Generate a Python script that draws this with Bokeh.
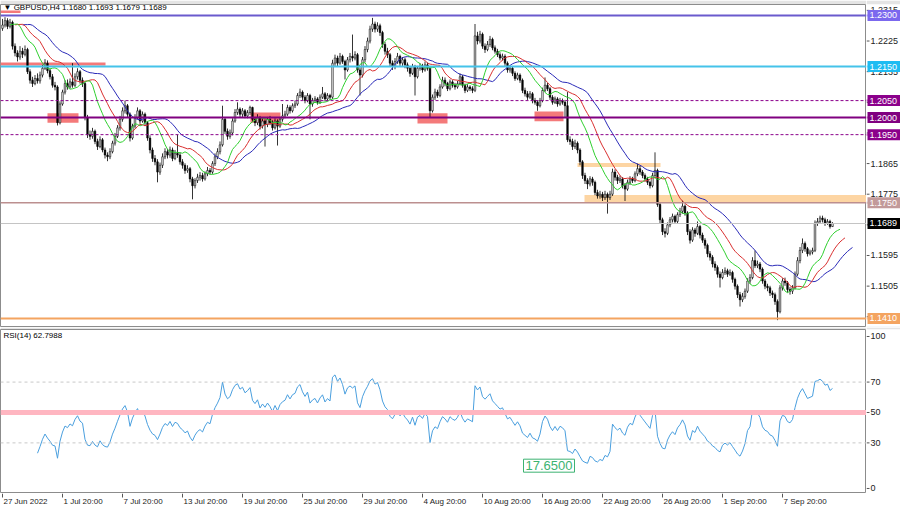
import numpy as np
from bokeh.plotting import figure
from bokeh.layouts import column, row
from bokeh.models import Range1d, Label, Span, ColumnDataSource
from bokeh.embed import file_html
from bokeh.resources import INLINE
from bokeh.core.properties import value

# ---------------- data (GBPUSD H4) ----------------
first_open = 1.2262
closes = [
    1.2272, 1.2285, 1.2268, 1.2280, 1.2210, 1.2190, 1.2178, 1.2195, 1.2186, 1.2200,
    1.2135, 1.2110, 1.2100, 1.2115, 1.2108, 1.2125, 1.2145, 1.2160, 1.2138, 1.2120,
    1.2095, 1.2090, 1.1985, 1.2040, 1.2075, 1.2100, 1.2090, 1.2105, 1.2095, 1.2120,
    1.2135, 1.2110, 1.2100, 1.2000, 1.1950, 1.1945, 1.1960, 1.1930, 1.1915, 1.1935,
    1.1905, 1.1890, 1.1885, 1.1900, 1.1925, 1.1945, 1.1970, 1.1995, 1.2020, 1.2035,
    1.2010, 1.1940, 1.1975, 1.2000, 1.2020, 1.1990, 1.2010, 1.1985, 1.1940, 1.1905,
    1.1880, 1.1870, 1.1840, 1.1860, 1.1885, 1.1900, 1.1890, 1.1905, 1.1880, 1.1895,
    1.1890, 1.1870, 1.1860, 1.1845, 1.1850, 1.1820, 1.1800, 1.1815, 1.1825, 1.1830,
    1.1820, 1.1835, 1.1845, 1.1840, 1.1865, 1.1885, 1.1900, 1.1920, 1.1995, 1.1960,
    1.1945, 1.1955, 1.1990, 1.2015, 1.2025, 1.2010, 1.2020, 1.2005, 1.2015, 1.2030,
    1.1995, 1.1985, 1.2000, 1.1975, 1.1990, 1.1980, 1.1995, 1.1985, 1.1970, 1.1990,
    1.1975, 1.1995, 1.2005, 1.2010, 1.2030, 1.2020, 1.2035, 1.2040, 1.2065, 1.2075,
    1.2060, 1.2050, 1.2065, 1.2040, 1.2050, 1.2055, 1.2045, 1.2060, 1.2070, 1.2055,
    1.2065, 1.2060, 1.2160, 1.2175, 1.2160, 1.2180, 1.2165, 1.2140, 1.2170, 1.2180,
    1.2175, 1.2185, 1.2140, 1.2125, 1.2170, 1.2200, 1.2225, 1.2260, 1.2275, 1.2260,
    1.2270, 1.2250, 1.2215, 1.2195, 1.2185, 1.2160, 1.2150, 1.2165, 1.2180, 1.2160,
    1.2170, 1.2155, 1.2145, 1.2130, 1.2150, 1.2120, 1.2145, 1.2150, 1.2140, 1.2155,
    1.2145, 1.2020, 1.2060, 1.2075, 1.2065, 1.2090, 1.2110, 1.2100, 1.2085, 1.2105,
    1.2095, 1.2090, 1.2100, 1.2120, 1.2095, 1.2080, 1.2090, 1.2085, 1.2080, 1.2240,
    1.2225, 1.2245, 1.2210, 1.2200, 1.2215, 1.2230, 1.2205, 1.2195, 1.2185, 1.2175,
    1.2180, 1.2160, 1.2140, 1.2145, 1.2130, 1.2115, 1.2125, 1.2110, 1.2080, 1.2070,
    1.2060, 1.2070, 1.2050, 1.2045, 1.2035, 1.2050, 1.2080, 1.2095, 1.2085, 1.2060,
    1.2045, 1.2055, 1.2040, 1.2050, 1.2045, 1.2035, 1.1935, 1.1930, 1.1915, 1.1925,
    1.1905, 1.1870, 1.1830, 1.1815, 1.1805, 1.1820, 1.1810, 1.1780, 1.1770, 1.1775,
    1.1765, 1.1775, 1.1765, 1.1775, 1.1840, 1.1825, 1.1815, 1.1820, 1.1800, 1.1790,
    1.1810, 1.1820, 1.1815, 1.1835, 1.1850, 1.1840, 1.1830, 1.1820, 1.1810, 1.1800,
    1.1830, 1.1845, 1.1745, 1.1700, 1.1665, 1.1660, 1.1685, 1.1700, 1.1710, 1.1695,
    1.1715, 1.1725, 1.1740, 1.1720, 1.1665, 1.1640, 1.1670, 1.1660, 1.1680, 1.1655,
    1.1640, 1.1625, 1.1600, 1.1590, 1.1570, 1.1560, 1.1540, 1.1530, 1.1545, 1.1550,
    1.1540, 1.1545, 1.1525, 1.1505, 1.1480, 1.1465, 1.1475, 1.1490, 1.1520, 1.1530,
    1.1580, 1.1565, 1.1570, 1.1555, 1.1520, 1.1505, 1.1500, 1.1485, 1.1480, 1.1460,
    1.1430, 1.1500, 1.1520, 1.1515, 1.1495, 1.1490, 1.1500, 1.1540, 1.1580, 1.1610,
    1.1630, 1.1615, 1.1600, 1.1605, 1.1610, 1.1690, 1.1695, 1.1705, 1.1700, 1.1690,
    1.1695, 1.1680, 1.1689,
]
highs = [
    1.2290, 1.2295, 1.2292, 1.2290, 1.2285, 1.2218, 1.2198, 1.2210, 1.2205, 1.2212,
    1.2205, 1.2142, 1.2120, 1.2125, 1.2130, 1.2135, 1.2155, 1.2172, 1.2168, 1.2145,
    1.2128, 1.2105, 1.2095, 1.2048, 1.2082, 1.2110, 1.2112, 1.2115, 1.2160, 1.2130,
    1.2145, 1.2140, 1.2118, 1.2105, 1.2008, 1.1962, 1.1970, 1.1965, 1.1938, 1.1945,
    1.1940, 1.1912, 1.1898, 1.1910, 1.1932, 1.1955, 1.1978, 1.2005, 1.2030, 1.2050,
    1.2040, 1.2015, 1.1982, 1.2010, 1.2030, 1.2025, 1.2018, 1.2015, 1.1990, 1.1948,
    1.1912, 1.1890, 1.1878, 1.1868, 1.1895, 1.1910, 1.1908, 1.1915, 1.1912, 1.1905,
    1.1950, 1.1898, 1.1878, 1.1866, 1.1860, 1.1855, 1.1826, 1.1822, 1.1835, 1.1840,
    1.1838, 1.1842, 1.1855, 1.1852, 1.1872, 1.1895, 1.1910, 1.1930, 1.2035, 1.2000,
    1.1968, 1.1965, 1.1998, 1.2025, 1.2045, 1.2030, 1.2028, 1.2025, 1.2022, 1.2035,
    1.2032, 1.2002, 1.2010, 1.2005, 1.1998, 1.1995, 1.2002, 1.2005, 1.1992, 1.1998,
    1.1995, 1.2002, 1.2040, 1.2020, 1.2038, 1.2036, 1.2042, 1.2050, 1.2072, 1.2085,
    1.2080, 1.2066, 1.2072, 1.2070, 1.2058, 1.2063, 1.2060, 1.2068, 1.2090, 1.2075,
    1.2072, 1.2070, 1.2170, 1.2185, 1.2182, 1.2190, 1.2185, 1.2170, 1.2178, 1.2190,
    1.2244, 1.2195, 1.2190, 1.2148, 1.2178, 1.2210, 1.2235, 1.2270, 1.2293, 1.2282,
    1.2280, 1.2276, 1.2255, 1.2222, 1.2205, 1.2190, 1.2168, 1.2175, 1.2190, 1.2185,
    1.2178, 1.2176, 1.2162, 1.2150, 1.2158, 1.2155, 1.2152, 1.2160, 1.2158, 1.2165,
    1.2162, 1.2150, 1.2068, 1.2085, 1.2082, 1.2098, 1.2120, 1.2118, 1.2105, 1.2112,
    1.2110, 1.2102, 1.2108, 1.2130, 1.2125, 1.2100, 1.2098, 1.2095, 1.2092, 1.2275,
    1.2252, 1.2255, 1.2250, 1.2218, 1.2225, 1.2240, 1.2235, 1.2212, 1.2202, 1.2192,
    1.2188, 1.2186, 1.2165, 1.2152, 1.2150, 1.2136, 1.2132, 1.2130, 1.2115, 1.2088,
    1.2078, 1.2078, 1.2075, 1.2058, 1.2050, 1.2058, 1.2088, 1.2118, 1.2102, 1.2090,
    1.2066, 1.2062, 1.2060, 1.2058, 1.2056, 1.2052, 1.2075, 1.1945, 1.1938, 1.1935,
    1.1930, 1.1910, 1.1875, 1.1838, 1.1822, 1.1828, 1.1826, 1.1815, 1.1788, 1.1785,
    1.1782, 1.1785, 1.1780, 1.1785, 1.1850, 1.1848, 1.1832, 1.1830, 1.1825, 1.1808,
    1.1818, 1.1828, 1.1826, 1.1842, 1.1865, 1.1858, 1.1846, 1.1836, 1.1826, 1.1815,
    1.1838, 1.1898, 1.1850, 1.1752, 1.1706, 1.1675, 1.1692, 1.1708, 1.1718, 1.1715,
    1.1722, 1.1735, 1.1756, 1.1745, 1.1725, 1.1672, 1.1678, 1.1676, 1.1695, 1.1685,
    1.1662, 1.1646, 1.1630, 1.1608, 1.1596, 1.1578, 1.1566, 1.1548, 1.1555, 1.1560,
    1.1556, 1.1554, 1.1550, 1.1530, 1.1510, 1.1488, 1.1485, 1.1498, 1.1528, 1.1540,
    1.1590, 1.1610, 1.1580, 1.1576, 1.1560, 1.1526, 1.1512, 1.1506, 1.1492, 1.1486,
    1.1466, 1.1508, 1.1528, 1.1530, 1.1520, 1.1502, 1.1508, 1.1548, 1.1590, 1.1620,
    1.1645, 1.1636, 1.1620, 1.1612, 1.1618, 1.1698, 1.1705, 1.1712, 1.1712, 1.1706,
    1.1702, 1.1700, 1.1693,
]
lows = [
    1.2255, 1.2265, 1.2260, 1.2262, 1.2200, 1.2180, 1.2165, 1.2170, 1.2175, 1.2180,
    1.2128, 1.2100, 1.2090, 1.2095, 1.2100, 1.2100, 1.2118, 1.2140, 1.2130, 1.2112,
    1.2088, 1.2080, 1.1977, 1.1980, 1.2035, 1.2068, 1.2082, 1.2085, 1.2088, 1.2090,
    1.2112, 1.2100, 1.2090, 1.1992, 1.1940, 1.1935, 1.1938, 1.1922, 1.1905, 1.1910,
    1.1898, 1.1880, 1.1872, 1.1878, 1.1895, 1.1918, 1.1940, 1.1962, 1.1988, 1.2012,
    1.2002, 1.1930, 1.1935, 1.1968, 1.1995, 1.1982, 1.1985, 1.1975, 1.1932, 1.1895,
    1.1870, 1.1860, 1.1810, 1.1832, 1.1852, 1.1878, 1.1880, 1.1882, 1.1872, 1.1875,
    1.1882, 1.1862, 1.1850, 1.1835, 1.1838, 1.1810, 1.1760, 1.1792, 1.1808, 1.1815,
    1.1812, 1.1815, 1.1828, 1.1832, 1.1835, 1.1858, 1.1878, 1.1892, 1.1915, 1.1952,
    1.1935, 1.1938, 1.1948, 1.1985, 1.2008, 1.2002, 1.2002, 1.1998, 1.1998, 1.2008,
    1.1988, 1.1975, 1.1978, 1.1965, 1.1968, 1.1915, 1.1972, 1.1978, 1.1962, 1.1965,
    1.1918, 1.1970, 1.1988, 1.1998, 1.2005, 1.2012, 1.2015, 1.2028, 1.2035, 1.2058,
    1.2052, 1.2042, 1.2045, 1.1995, 1.2032, 1.2043, 1.2038, 1.2040, 1.2055, 1.2048,
    1.2050, 1.2052, 1.2055, 1.2152, 1.2150, 1.2155, 1.2158, 1.2112, 1.2135, 1.2162,
    1.2165, 1.2168, 1.2132, 1.2065, 1.2118, 1.2162, 1.2192, 1.2218, 1.2252, 1.2250,
    1.2252, 1.2240, 1.2205, 1.2185, 1.2175, 1.2150, 1.2140, 1.2142, 1.2158, 1.2152,
    1.2152, 1.2145, 1.2135, 1.2120, 1.2125, 1.2065, 1.2115, 1.2138, 1.2132, 1.2135,
    1.2138, 1.2000, 1.2015, 1.2052, 1.2058, 1.2060, 1.2085, 1.2092, 1.2078, 1.2080,
    1.2088, 1.2082, 1.2085, 1.2095, 1.2088, 1.2072, 1.2075, 1.2078, 1.2072, 1.2075,
    1.2215, 1.2218, 1.2202, 1.2190, 1.2195, 1.2208, 1.2198, 1.2188, 1.2178, 1.2168,
    1.2168, 1.2152, 1.2132, 1.2132, 1.2122, 1.2108, 1.2110, 1.2102, 1.2072, 1.2062,
    1.2052, 1.2055, 1.2042, 1.2038, 1.2020, 1.2030, 1.2045, 1.2075, 1.2078, 1.2052,
    1.2038, 1.2040, 1.2032, 1.2035, 1.2038, 1.2000, 1.1928, 1.1920, 1.1905, 1.1908,
    1.1895, 1.1860, 1.1820, 1.1805, 1.1790, 1.1798, 1.1800, 1.1772, 1.1762, 1.1762,
    1.1755, 1.1758, 1.1718, 1.1758, 1.1770, 1.1815, 1.1805, 1.1808, 1.1792, 1.1755,
    1.1785, 1.1802, 1.1808, 1.1810, 1.1828, 1.1832, 1.1822, 1.1812, 1.1802, 1.1792,
    1.1795, 1.1825, 1.1738, 1.1690, 1.1655, 1.1648, 1.1655, 1.1678, 1.1692, 1.1688,
    1.1690, 1.1708, 1.1718, 1.1712, 1.1655, 1.1630, 1.1635, 1.1650, 1.1655, 1.1645,
    1.1632, 1.1615, 1.1590, 1.1580, 1.1560, 1.1550, 1.1530, 1.1501, 1.1525, 1.1538,
    1.1532, 1.1535, 1.1515, 1.1495, 1.1470, 1.1445, 1.1458, 1.1468, 1.1485, 1.1512,
    1.1525, 1.1558, 1.1558, 1.1546, 1.1512, 1.1496, 1.1490, 1.1476, 1.1470, 1.1450,
    1.1405, 1.1425, 1.1492, 1.1506, 1.1486, 1.1480, 1.1482, 1.1495, 1.1535, 1.1572,
    1.1602, 1.1606, 1.1592, 1.1595, 1.1598, 1.1605, 1.1682, 1.1688, 1.1692, 1.1682,
    1.1685, 1.1674, 1.1679,
]
assert len(closes) == len(highs) == len(lows) == 333

date_ticks = [0, 24, 48, 72, 96, 120, 144, 168, 192, 216, 240, 264, 288, 312]
date_labels = ["27 Jun 2022", "1 Jul 20:00", "7 Jul 20:00", "13 Jul 20:00", "19 Jul 20:00",
               "25 Jul 20:00", "29 Jul 20:00", "4 Aug 20:00", "10 Aug 20:00", "16 Aug 20:00",
               "22 Aug 20:00", "26 Aug 20:00", "1 Sep 20:00", "7 Sep 20:00"]
price_ticks = [1.1415, 1.1505, 1.1595, 1.1685, 1.1775, 1.1865, 1.1955, 1.2045, 1.2135, 1.2225, 1.2315]
rsi_ticks = [0, 30, 50, 70, 100]

# horizontal levels
level_prices = [1.2300, 1.2150, 1.2050, 1.2000, 1.1950, 1.1750, 1.1410]
level_colors = ["#6a5acd", "#45c3ea", "#8b008b", "#800080", "#8b008b", "#bc8f8f", "#f4a460"]
level_widths = [2, 2, 1, 2, 1, 1.5, 2]
level_dashes = ["solid", "solid", "3 2", "solid", "3 2", "solid", "solid"]
level_box_colors = ["#7b68ee", "#1ebcf2", "#8b008b", "#800080", "#8b008b", "#c29a9a", "#f4a460"]
current_price = 1.1689

# zones (bar index / price)
red_left = [-0.8, 18.0, 99.2, 166.0, 212.8, -0.8]
red_right = [41.2, 30.4, 111.2, 178.0, 224.4, 7.2]
red_top = [1.2162, 1.2013, 1.2015, 1.2013, 1.2018, 1.2315]
red_bottom = [1.2153, 1.1985, 1.1985, 1.1983, 1.1989, 1.2307]
orange_left = [230.0, 232.8]
orange_right = [263.2, 346.5]
orange_top = [1.1867, 1.1773]
orange_bottom = [1.1855, 1.1752]

rsi_title_value = 62.7988
rsi_note_value = 17.6500
rsi_note_bar = 208.4
rsi_note_level = 15.0

# ---------------- derived ----------------
n = len(closes)
idx = np.arange(n)
c = np.array(closes)
h = np.array(highs)
l = np.array(lows)
o = np.array([first_open] + closes[:-1])
bull = c >= o

def smma(x, period):
    out = np.empty(len(x))
    out[0] = x[0]
    for i in range(1, len(x)):
        out[i] = (out[i - 1] * (period - 1) + x[i]) / period
    return out

median = (h + l) / 2.0
jaw = smma(median, 13)
teeth = smma(median, 8)
lips = smma(median, 5)

def rsi(x, period=14):
    d = np.diff(x)
    g = np.where(d > 0, d, 0.0)
    ls = np.where(d < 0, -d, 0.0)
    out = np.full(len(x), np.nan)
    ag = g[:period].mean()
    al = ls[:period].mean()
    out[period] = 100 - 100 / (1 + ag / al) if al > 0 else 100
    for i in range(period + 1, len(x)):
        ag = (ag * (period - 1) + g[i - 1]) / period
        al = (al * (period - 1) + ls[i - 1]) / period
        out[i] = 100 - 100 / (1 + ag / al) if al > 0 else 100
    return out

rsi_vals = rsi(c)

FONT = "Liberation Sans"
XR = Range1d(-0.8, 345.6)
PY = Range1d(1.13864, 1.23323)
RY = Range1d(-3.3, 104.6)
BORDER = "#e4e4e4"


def bare(fw, fh, xr, yr, top=0, bottom=0, border="#ffffff"):
    f = figure(frame_width=fw, frame_height=fh, x_range=xr, y_range=yr,
               output_backend="svg", toolbar_location=None,
               x_axis_location=None, y_axis_location=None,
               min_border_top=top, min_border_bottom=bottom,
               min_border_left=0, min_border_right=0)
    f.grid.visible = False
    f.outline_line_color = None
    f.background_fill_color = "#ffffff"
    f.border_fill_color = border
    return f

# ---------------- price panel ----------------
p1 = bare(866, 322, XR, PY, top=4, bottom=1, border=BORDER)
p1.outline_line_color = "#8c8c8c"

p1.quad(left=red_left, right=red_right, top=red_top, bottom=red_bottom,
        fill_color="#f47a7a", line_color=None)
p1.quad(left=orange_left, right=orange_right, top=orange_top, bottom=orange_bottom,
        fill_color="#fdd5a3", line_color=None)

src = ColumnDataSource(dict(x=idx, h=h, l=l, top=np.maximum(o, c), bottom=np.minimum(o, c),
                            fill=np.where(bull, "#ffffff", "#000000")))
p1.segment(x0="x", y0="h", x1="x", y1="l", source=src, line_color="#000000", line_width=0.8)
p1.vbar(x="x", width=0.62, top="top", bottom="bottom", fill_color="fill",
        line_color="#000000", line_width=0.6, source=src)

p1.line(idx + 8, jaw, line_color="#2b2bb8", line_width=1)
p1.line(idx + 5, teeth, line_color="#d93030", line_width=1)
p1.line(idx + 3, lips, line_color="#2fcf2f", line_width=1)

p1.add_layout(Span(location=current_price, dimension="width", line_color="#c4c4c4", line_width=1))
for lp, lc, lw, ld in zip(level_prices, level_colors, level_widths, level_dashes):
    p1.add_layout(Span(location=lp, dimension="width", line_color=lc, line_width=lw, line_dash=ld))

title_text = "\u25bc GBPUSD,H4  " + " ".join(f"{v:.4f}" for v in (o[-1], h[-1], l[-1], c[-1]))
p1.add_layout(Label(x=-0.8, y=1.2324, x_offset=3, text=title_text, text_font=FONT,
                    text_font_size="8px", text_color="#000000", text_baseline="middle"))

# price scale (right strip)
p1r = bare(34, 322, Range1d(0, 34), PY, top=4, bottom=1, border=BORDER)
p1r.segment(x0=0, x1=3, y0=price_ticks, y1=price_ticks, line_color="#555555", line_width=1)
p1r.text(x=4, y=price_ticks, text=[f"{t:.4f}" for t in price_ticks],
         text_font=value(FONT), text_font_size=value("9px"), text_color="#222222",
         text_baseline="middle", text_align="left")
p1r.segment(x0=0, x1=1, y0=level_prices, y1=level_prices, line_color=level_colors, line_width=2)
box_prices = level_prices + [current_price]
box_colors = level_box_colors + ["#000000"]
p1r.rect(x=17.5, y=box_prices, width=33, height=11, height_units="screen",
         fill_color=box_colors, line_color=None)
p1r.text(x=3, y=box_prices, text=[f"{v:.4f}" for v in box_prices],
         text_font=value(FONT), text_font_size=value("9px"), text_color="#ffffff",
         text_baseline="middle", text_align="left")

# ---------------- RSI panel ----------------
p2 = bare(866, 164, XR, RY, top=2, bottom=0, border=BORDER)
p2.outline_line_color = "#8c8c8c"
p2.add_layout(Span(location=50, dimension="width", line_color="#ffb6c1", line_width=5))
for lv in (70, 30):
    p2.add_layout(Span(location=lv, dimension="width", line_color="#c8c8c8", line_width=1,
                       line_dash="3 3"))
p2.line(idx, rsi_vals, line_color="#4a9fde", line_width=1)

p2.add_layout(Label(x=-0.8, y=100.6, x_offset=3, text=f"RSI(14) {rsi_title_value:.4f}",
                    text_font=FONT, text_font_size="8px", text_color="#000000",
                    text_baseline="middle"))
p2.add_layout(Label(x=rsi_note_bar, y=rsi_note_level, text=f"{rsi_note_value:.4f}",
                    text_font=FONT, text_font_size="13px", text_color="#3cb371",
                    text_baseline="middle", background_fill_color="#ffffff",
                    border_line_color="#3cb371", border_line_width=1, padding=2))

p2r = bare(34, 164, Range1d(0, 34), RY, top=2, bottom=0, border=BORDER)
p2r.segment(x0=0, x1=3, y0=rsi_ticks, y1=rsi_ticks, line_color="#555555", line_width=1)
p2r.text(x=4, y=rsi_ticks, text=[str(t) for t in rsi_ticks],
         text_font=value(FONT), text_font_size=value("9px"), text_color="#222222",
         text_baseline="middle", text_align="left")

# ---------------- time scale ----------------
pd_ = bare(866, 16, XR, Range1d(0, 16))
pd_.segment(x0=date_ticks, x1=date_ticks, y0=16, y1=12, line_color="#555555", line_width=1)
pd_.text(x=[t + 0.4 for t in date_ticks], y=8.5, text=date_labels,
         text_font=value(FONT), text_font_size=value("8px"), text_color="#222222",
         text_baseline="middle", text_align="left")
pdr = bare(34, 16, Range1d(0, 34), Range1d(0, 16))

layout = column(row(p1, p1r), row(p2, p2r), row(pd_, pdr))
open("out.html", "w").write(file_html(layout, INLINE))
